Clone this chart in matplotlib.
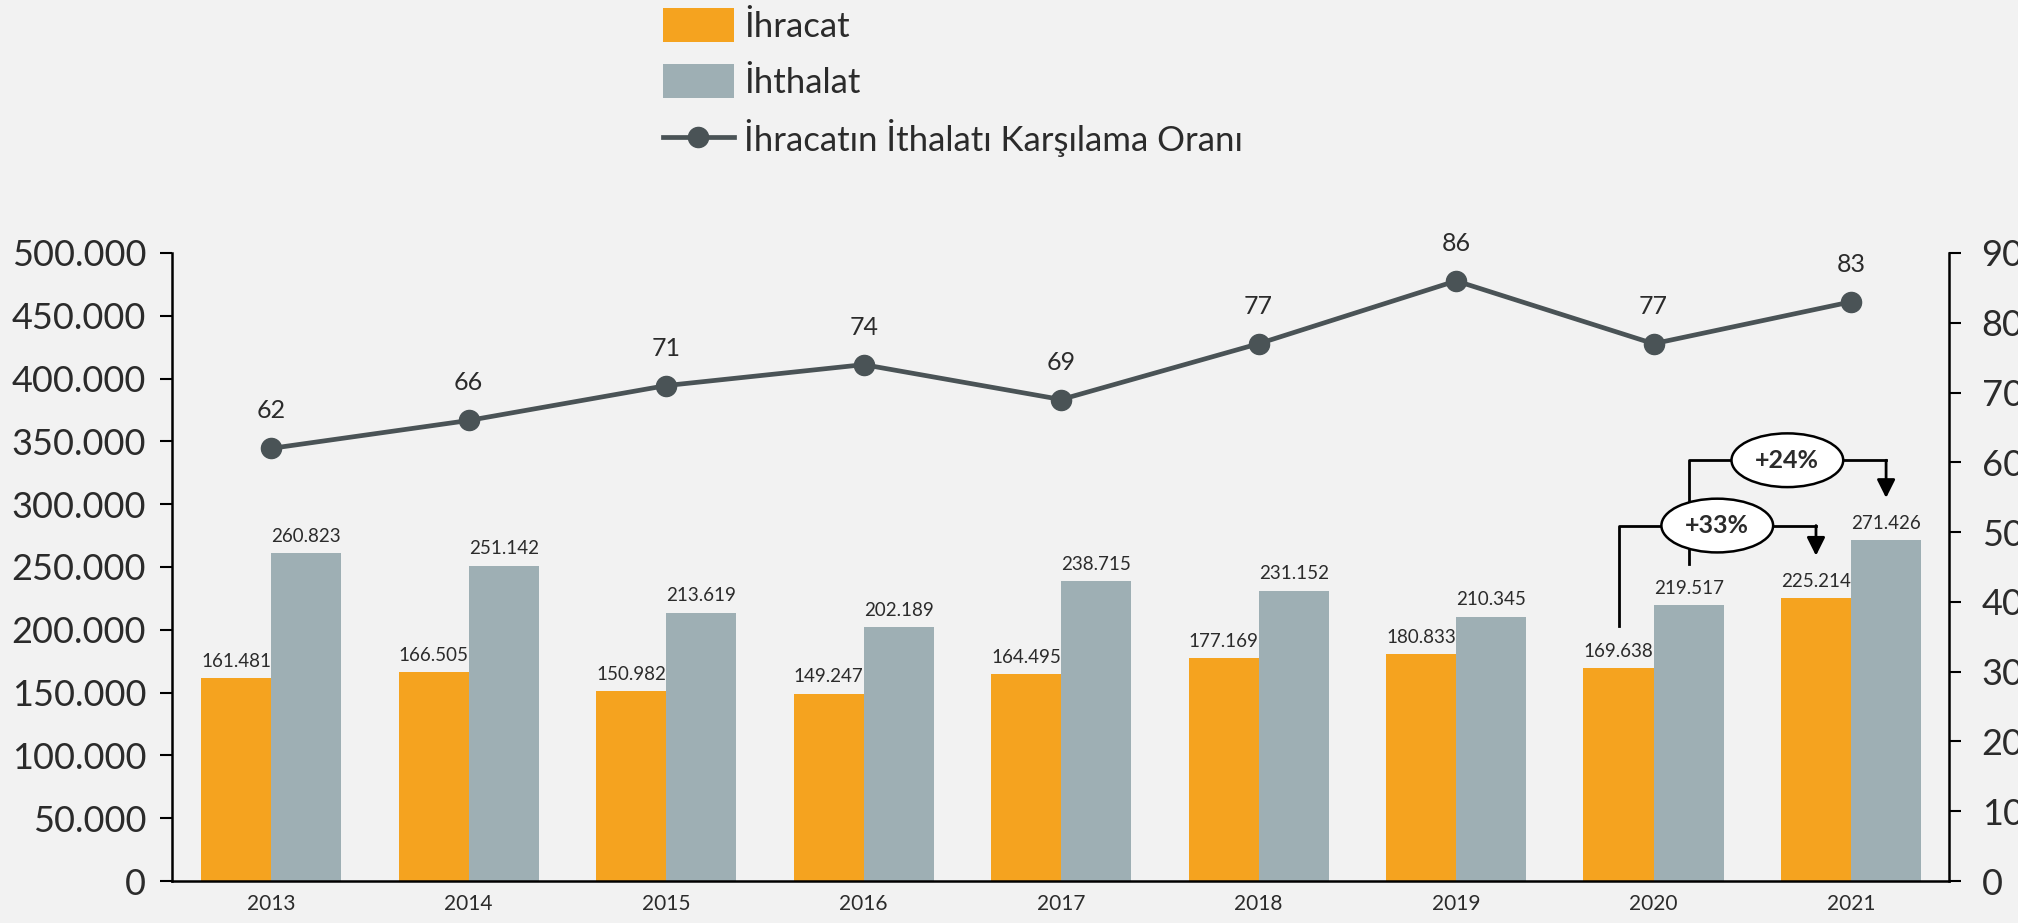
import matplotlib
matplotlib.use('Agg')
import matplotlib.pyplot as plt
from matplotlib.ticker import FuncFormatter
from matplotlib.legend_handler import HandlerPatch
from matplotlib.patches import Rectangle
import numpy as np

# data
years = ['2013', '2014', '2015', '2016', '2017', '2018', '2019', '2020', '2021']
ihracat = [161481, 166505, 150982, 149247, 164495, 177169, 180833, 169638, 225214]
ithalat = [260823, 251142, 213619, 202189, 238715, 231152, 210345, 219517, 271426]
oran = [62, 66, 71, 74, 69, 77, 86, 77, 83]

ORANGE = '#F5A31F'
GREY = '#9EAFB4'
LINE = '#4A5356'
BG = '#F2F2F2'
TXT = '#2B2B2B'

plt.rcParams['font.family'] = ['Lato', 'DejaVu Sans']

def dotted(v, pos=None):
    return f"{int(v):,}".replace(',', '.')

# legend squares are narrower than the line handle, right aligned
def square(legend, orig, xdescent, ydescent, width, height, fontsize):
    sw = width * 0.7
    return Rectangle((width - sw - xdescent, -ydescent), sw, height)

fig = plt.figure(figsize=(20.18, 9.23), dpi=100, facecolor=BG)
ax = fig.add_axes([0.0852, 0.0455, 0.8806, 0.6804])
ax.set_facecolor(BG)

x = np.arange(len(years))
w = 0.355
b1 = ax.bar(x - w/2, ihracat, w, color=ORANGE, label='İhracat', zorder=2)
b2 = ax.bar(x + w/2, ithalat, w, color=GREY, label='İhthalat', zorder=2)

for bars, vals in ((b1, ihracat), (b2, ithalat)):
    for r, v in zip(bars, vals):
        ax.annotate(dotted(v), (r.get_x() + r.get_width()/2, v), xytext=(0, 6),
                    textcoords='offset points', ha='center', va='bottom',
                    fontsize=13.5, color=TXT)

ax.set_xlim(-0.503, 8.496)
ax.set_ylim(0, 500000)
ax.set_yticks(np.arange(0, 500001, 50000))
ax.yaxis.set_major_formatter(FuncFormatter(dotted))
ax.set_xticks(x)
ax.set_xticklabels(years)
ax.tick_params(axis='x', length=0, labelsize=15, colors=TXT, pad=9)
ax.tick_params(axis='y', length=8.5, width=1.5, direction='out', labelsize=26,
               colors='black', labelcolor=TXT, pad=10)
for s in ['top', 'right']:
    ax.spines[s].set_visible(False)
ax.spines['left'].set_linewidth(1.8)
ax.spines['bottom'].set_linewidth(1.8)

# ratio line on right axis
ax2 = ax.twinx()
ax2.set_ylim(0, 90)
ax2.set_yticks(np.arange(0, 91, 10))
ln, = ax2.plot(x, oran, color=LINE, lw=3.4, marker='o', ms=14.5,
               label='İhracatın İthalatı Karşılama Oranı', zorder=3)
for xi, v in zip(x, oran):
    ax2.annotate(str(v), (xi, v), xytext=(0, 27), textcoords='offset points',
                 ha='center', va='center', fontsize=18, color=TXT)
ax2.tick_params(axis='y', length=8.5, width=1.5, direction='out', labelsize=26,
                colors='black', labelcolor=TXT, pad=15)
for s in ['top', 'left', 'bottom']:
    ax2.spines[s].set_visible(False)
ax2.spines['right'].set_linewidth(1.8)

# growth annotations 2020 -> 2021
def growth(x0, x1, y0, ylev, y1, text):
    ax.plot([x0, x0, x1], [y0, ylev, ylev], color='black', lw=2, zorder=4)
    ax.annotate('', xy=(x1, y1), xytext=(x1, ylev),
                arrowprops=dict(arrowstyle='-|>,head_width=0.55,head_length=1.1',
                                color='black', lw=2, shrinkA=0, shrinkB=0), zorder=4)
    ax.text((x0 + x1) / 2, ylev, text, ha='center', va='center', fontsize=18,
            fontweight='bold', color=TXT, zorder=5,
            bbox=dict(boxstyle='ellipse,pad=0.3', fc='white', ec='black', lw=1.8))

growth(7 - w/2, 8 - w/2, 203000, 283000, 259000, '+33%')
growth(7 + w/2, 8 + w/2, 252000, 335000, 305000, '+24%')

# legend
handles = [b1, b2, ln]
leg = fig.legend(handles, [h.get_label() for h in handles], loc='upper left',
                 bbox_to_anchor=(0.3215, 1.006), frameon=False, fontsize=25,
                 handlelength=2.05, handleheight=1.12, labelspacing=0.6,
                 handletextpad=0.3, borderaxespad=0,
                 handler_map={Rectangle: HandlerPatch(patch_func=square)})
for t in leg.get_texts():
    t.set_color(TXT)

fig.savefig('out.png', dpi=100, facecolor=BG)
